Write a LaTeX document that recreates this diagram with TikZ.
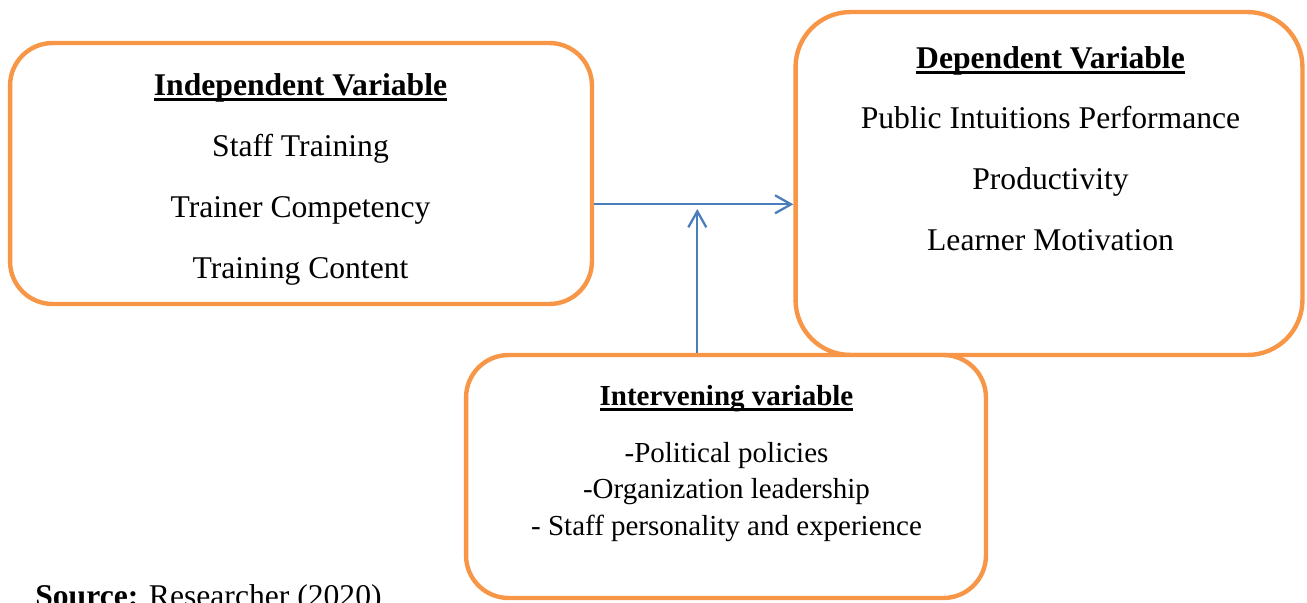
\documentclass[tikz,border=0pt]{standalone}
\usepackage{fontspec}
\setmainfont{Liberation Serif}
\usetikzlibrary{arrows.meta}
\definecolor{orangecadre}{HTML}{F79646}
\definecolor{bleufleche}{HTML}{4A7EBB}
% titre souligne d'un trait epais
\newcommand{\souligne}[1]{\setbox0\hbox{#1}\rlap{\rule[-1.15mm]{\wd0}{1.3pt}}\box0}
\tikzset{
	cadre/.style={draw=orangecadre,line width=2.5pt,fill=white,rounded corners=#1,inner sep=0pt},
	cadre/.default=0.85cm,
	fleche/.style={draw=bleufleche,line width=1.3pt,-{Straight Barb[length=3.2mm,width=3.6mm]}},
	corps/.style={anchor=base,inner sep=0pt,font=\fontsize{18}{20}\selectfont},
	petit/.style={anchor=base,inner sep=0pt,font=\fontsize{16.5}{18}\selectfont},
}
\begin{document}
\begin{tikzpicture}[x=0.02cm,y=-0.02cm]
		\useasboundingbox (0,0) rectangle (1307,602);
		\node[cadre,minimum width=11.64cm,minimum height=5.22cm] (indep) at (301,173.5) {};%gauche
		\node[cadre=1.1cm,minimum width=10.14cm,minimum height=6.86cm] (dep) at (1049,183.5) {};%droite
		\node[cadre,minimum width=10.4cm,minimum height=4.86cm] (interv) at (726,476.5) {};%bas
		\foreach \Y/\Nom/\Texte in {95/ti/\textbf{\souligne{Independent Variable}},156/i1/Staff Training,217/i2/Trainer Competency,278/i3/Training Content}
		\node[corps] (\Nom) at (300.5,\Y) {\Texte} ;
		\foreach \Y/\Nom/\Texte in {68/td/\textbf{\souligne{Dependent Variable}},128/d1/Public Intuitions Performance,189/d2/Productivity,250/d3/Learner Motivation}
		\node[corps] (\Nom) at (1050.5,\Y) {\Texte} ;
		\foreach \Y/\Nom/\Texte in {405/tv/\textbf{\souligne{Intervening variable}},462/v1/-Political policies,498/v2/-Organization leadership,535/v3/- Staff personality and experience}
		\node[petit] (\Nom) at (726.5,\Y) {\Texte} ;
		\node[corps,anchor=base west] (source) at (35,606) {\textbf{Source:} Researcher (2020)};
		\coordinate (jonction) at (697.3,204.3);
		\coordinate (pointe) at (697.3,209);
		\draw[fleche] (indep.east |- jonction) -- (dep.west |- jonction) ;%vers la droite
		\draw[fleche] (interv.north -| jonction) -- (pointe) ;%vers le haut
	\end{tikzpicture}
\end{document}
